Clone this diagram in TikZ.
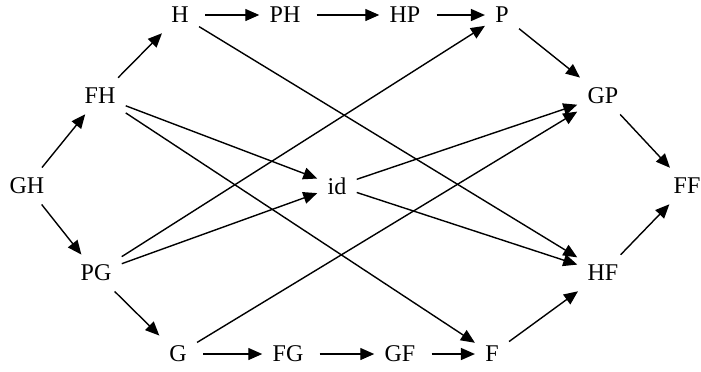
\documentclass[tikz,border=0pt]{standalone}
\usepackage{fontspec}
\setmainfont{Liberation Serif}
\usetikzlibrary{arrows.meta}

\tikzset{
  obj/.style={inner sep=5pt, font=\large},
  map/.style={line width=0.7pt, -{Triangle[length=7pt,width=6pt]}},
  row/.style={map, shorten <=3pt},
}

\begin{document}
\begin{tikzpicture}[x=0.5pt,y=-0.5pt]
        \useasboundingbox (0,0) rectangle (701,371);

        % top row
        \node[obj] (h)  at (180,15) {H};
        \node[obj] (ph) at (285,15) {PH};
        \node[obj] (hp) at (405,15) {HP};
        \node[obj] (p)  at (502,15) {P};
        % bottom row
        \node[obj] (g)  at (178,354) {G};
        \node[obj] (fg) at (288,354) {FG};
        \node[obj] (gf) at (400,354) {GF};
        \node[obj] (f)  at (492,354) {F};
        % left, middle, right
        \node[obj] (gh) at (27,186)  {GH};
        \node[obj] (fh) at (100,96)  {FH};
        \node[obj] (pg) at (96,273)  {PG};
        \node[obj] (id) at (337,186) {id};
        \node[obj] (gp) at (603,96)  {GP};
        \node[obj] (hf) at (603,273) {HF};
        \node[obj] (ff) at (687,186) {FF};

        \draw[row] (h)--(ph);
        \draw[row] (ph)--(hp);
        \draw[row] (hp)--(p);
        \draw[row] (g)--(fg);
        \draw[row] (fg)--(gf);
        \draw[row] (gf)--(f);

        \draw[map] (gh)--(fh);
        \draw[map] (fh)--(h);
        \draw[map] (gh)--(pg);
        \draw[map] (pg)--(g);
        \draw[map] (p)--(gp);
        \draw[map] (gp)--(ff);
        \draw[map] (f)--(hf);
        \draw[map] (hf)--(ff);

        \draw[map] (fh)--(id);
        \draw[map] (pg)--(id);
        \draw[map] (id)--(gp);
        \draw[map] (id)--(hf);
        \draw[map] (fh)--(f);
        \draw[map] (h)--(hf);
        \draw[map] (pg)--(p);
        \draw[map] (g)--(gp);

\end{tikzpicture}
\end{document}
